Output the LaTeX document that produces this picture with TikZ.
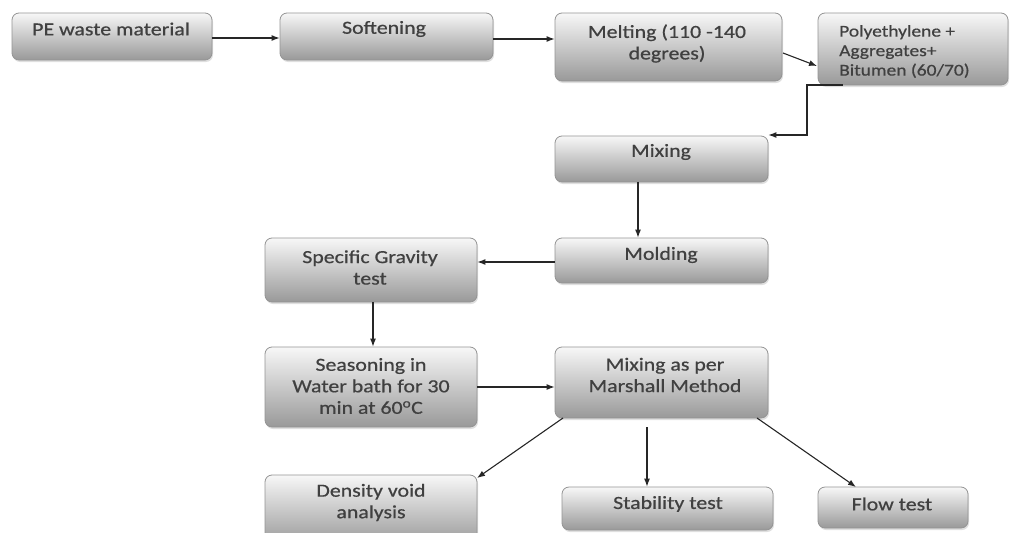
\documentclass[tikz,border=0pt]{standalone}
\usepackage{fontspec}
\setmainfont{Carlito}
\newfontfamily\boxfont[FakeStretch=1.18,FakeBold=0.6]{Carlito}
\usetikzlibrary{arrows.meta,shadows}
\begin{document}
\begin{tikzpicture}[x=1pt,y=-1pt,
  box/.style={rectangle, rounded corners=7pt, draw=black!42, line width=0.8pt,
    top color=white!97!black, bottom color=black!40, inner sep=0pt,
    drop shadow={shadow xshift=1pt, shadow yshift=-2pt, opacity=0.25}},
  txt/.style={font=\boxfont\fontsize{18.5}{21.5}\selectfont, text=black!75, align=center, inner sep=0pt},
  arr/.style={draw=black!85, line width=1.1pt, -{Latex[length=8pt,width=6pt]}}]
\useasboundingbox (0,0) rectangle (1010,533);
% boxes
\node[box, minimum width=200pt, minimum height=47pt] (pe) at (112,36.5) {};
\node[box, minimum width=213pt, minimum height=47pt] (soft) at (386.5,36.5) {};
\node[box, minimum width=227pt, minimum height=68pt] (melt) at (668.5,47) {};
\node[box, minimum width=190pt, minimum height=72pt] (poly) at (913,49) {};
\node[box, minimum width=213pt, minimum height=46pt] (mix) at (661.5,159) {};
\node[box, minimum width=213pt, minimum height=45pt] (mold) at (661.5,260.5) {};
\node[box, minimum width=212pt, minimum height=64pt] (sg) at (371,270) {};
\node[box, minimum width=212pt, minimum height=80pt] (seas) at (371,387) {};
\node[box, minimum width=213pt, minimum height=71pt] (marsh) at (661.5,382.5) {};
\node[box, minimum width=212pt, minimum height=70pt] (dens) at (371,510) {};
\node[box, minimum width=211pt, minimum height=43pt] (stab) at (667.5,508.5) {};
\node[box, minimum width=150pt, minimum height=41pt] (flow) at (893,507.5) {};
% texts
\node[txt] (tpe) at (111,29) {PE waste material};
\node[txt] (tsoft) at (384,29) {Softening};
\node[txt] (tmelt) at (667,43.5) {Melting (110 -140\\degrees)};
\node[txt, align=left, font=\boxfont\fontsize{16.5}{19.5}\selectfont, anchor=west] (tpoly) at (839,51.5) {Polyethylene +\\Aggregates+\\Bitumen (60/70)};
\node[txt] (tmix) at (661,152) {Mixing};
\node[txt] (tmold) at (661,255) {Molding};
\node[txt] (tsg) at (370,267.5) {Specific Gravity\\test};
\node[txt] (tseas) at (371,386) {Seasoning in\\Water bath for 30\\min at 60\textsuperscript{o}C};
\node[txt] (tmarsh) at (665,375) {Mixing as per\\Marshall Method};
\node[txt] (tdens) at (371,502.5) {Density void\\analysis};
\node[txt] (tstab) at (668,504) {Stability test};
\node[txt] (tflow) at (892,504) {Flow test};
% connectors
\draw[arr] (pe.east |- 0,38) -- (soft.west |- 0,38);
\draw[arr] (soft.east |- 0,39) -- (melt.west |- 0,39);
\draw[arr] (783,53) -- (817,66);
\coordinate (pb) at (843,85);
\draw[arr] (pb) -- (807,85) -- (807,135) -- (mix.east |- 0,135);
\draw[arr] (mix.south -| 638,0) -- (mold.north -| 638,0);
\draw[arr] (mold.west |- 0,262) -- (sg.east |- 0,262);
\draw[arr] (sg.south -| 373,0) -- (seas.north -| 373,0);
\draw[arr] (seas.east |- 0,387) -- (marsh.west |- 0,387);
\draw[arr] (563,418) -- (477,478);
\coordinate (ms) at (647,427);
\draw[arr] (ms) -- (stab.north -| 647,0);
\draw[arr] (757,418) -- (856,487);
\end{tikzpicture}
\end{document}
